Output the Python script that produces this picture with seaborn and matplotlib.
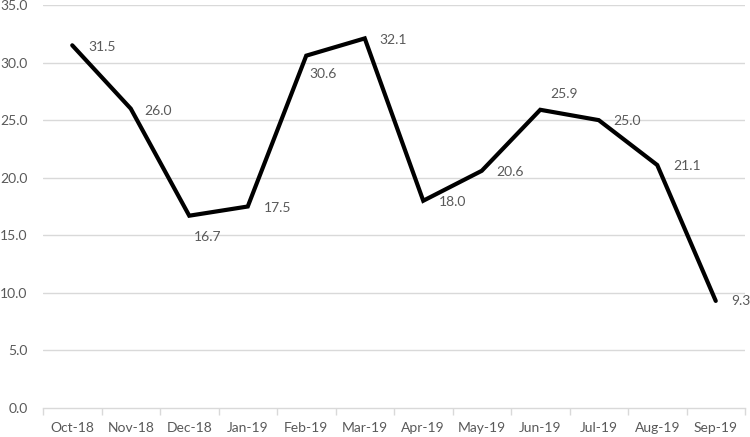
import matplotlib
matplotlib.use("Agg")
import matplotlib.pyplot as plt
import seaborn as sns
import pandas as pd
import numpy as np

months = ["Oct-18", "Nov-18", "Dec-18", "Jan-19", "Feb-19", "Mar-19",
          "Apr-19", "May-19", "Jun-19", "Jul-19", "Aug-19", "Sep-19"]
values = [31.5, 26.0, 16.7, 17.5, 30.6, 32.1, 18.0, 20.6, 25.9, 25.0, 21.1, 9.3]
y_ticks = [0, 5, 10, 15, 20, 25, 30, 35]

# label offsets in pixels (dx, dy) relative to each point
label_offsets = [(16, -2), (14, -2), (5, -21), (16, -1), (3, -18), (15, -2),
                 (16, -1), (15, -1), (10, 16), (15, -1), (16, -1), (16, 0)]

sns.set_theme(style="white")
plt.rcParams['font.family'] = ['Lato', 'DejaVu Sans']

df = pd.DataFrame({"month": months, "value": values})
df["x"] = np.arange(len(months))

fig = plt.figure(figsize=(7.5, 4.37), dpi=100)
ax = fig.add_axes([43/750, (437-408)/437, (745-43)/750, (408-5)/437])

for t in y_ticks[1:]:
    ax.axhline(t, color="#d9d9d9", lw=1, zorder=0)

sns.lineplot(data=df, x="x", y="value", color="black", lw=3, ax=ax,
             solid_joinstyle="miter", zorder=3)

text_color = "#595959"
for (xv, yv), (dx, dy) in zip(zip(df["x"], df["value"]), label_offsets):
    ax.annotate(f"{yv:.1f}", (xv, yv), xytext=(dx, dy), textcoords="offset pixels",
                ha="left", va="center", fontsize=10, color=text_color,
                annotation_clip=False)

ax.set_xlim(-0.5, len(months) - 0.5)
ax.set_ylim(0, 35)
ax.set_yticks(y_ticks)
ax.set_yticklabels([f"{t:.1f}" for t in y_ticks])
ax.set_xticks(df["x"])
ax.set_xticklabels(months)
ax.set_xticks(np.arange(-0.5, len(months)), minor=True)
ax.tick_params(axis="x", which="major", length=0, pad=10, labelsize=10, labelcolor=text_color)
ax.tick_params(axis="x", which="minor", length=5, width=1, color="#d9d9d9", direction="out", bottom=True)
ax.tick_params(axis="y", length=0, pad=11, labelsize=10, labelcolor=text_color)
ax.set_xlabel("")
ax.set_ylabel("")
for s in ["top", "right", "left"]:
    ax.spines[s].set_visible(False)
ax.spines["bottom"].set_color("#d9d9d9")
ax.spines["bottom"].set_linewidth(1)

fig.savefig("out.png", dpi=100)
